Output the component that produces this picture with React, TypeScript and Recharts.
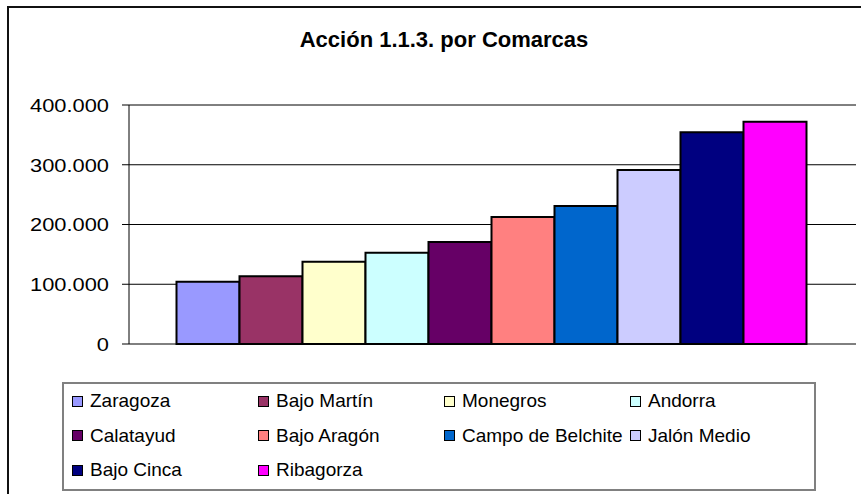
import { BarChart, Bar, XAxis, YAxis, CartesianGrid } from "recharts";

const titulo = "Acción 1.1.3. por Comarcas";

const comarcas = [
  "Zaragoza",
  "Bajo Martín",
  "Monegros",
  "Andorra",
  "Calatayud",
  "Bajo Aragón",
  "Campo de Belchite",
  "Jalón Medio",
  "Bajo Cinca",
  "Ribagorza",
];

const importes = [104300, 113300, 137800, 152900, 170700, 212500, 231000, 291200, 354200, 372100];

const colores = [
  "#9999FF",
  "#993366",
  "#FFFFCC",
  "#CCFFFF",
  "#660066",
  "#FF8080",
  "#0066CC",
  "#CCCCFF",
  "#000080",
  "#FF00FF",
];

const ticksY = [0, 100000, 200000, 300000, 400000];

const FONT = "'Liberation Sans', Arial, sans-serif";

const fila: Record<string, string | number> = { name: titulo };
comarcas.forEach((c, i) => {
  fila[c] = importes[i];
});
const datos = [fila];

function formatoMiles(v: number): string {
  return String(Math.round(v)).replace(/\B(?=(\d{3})+(?!\d))/g, ".");
}

function TickY(props: any) {
  const { x, y, payload } = props;
  return (
    <g transform={`translate(${x},${y})`}>
      <text
        x={0}
        y={0}
        dy="0.36em"
        textAnchor="end"
        fontSize={19}
        fontFamily={FONT}
        fill="#000"
        transform="scale(1.15,1)"
      >
        {formatoMiles(payload.value)}
      </text>
    </g>
  );
}

function Leyenda() {
  return (
    <div
      style={{
        position: "absolute",
        left: 62,
        top: 382,
        width: 754,
        height: 109,
        boxSizing: "border-box",
        border: "2px solid #808080",
        background: "#fff",
      }}
    >
      {comarcas.map((c, i) => {
        const col = i % 4;
        const row = Math.floor(i / 4);
        const left = 8 + col * 186;
        const top = 17 + row * 34.5;
        return (
          <div key={c} style={{ position: "absolute", left, top, height: 0 }}>
            <div
              style={{
                position: "absolute",
                left: 0,
                top: -5.5,
                width: 11,
                height: 11,
                boxSizing: "border-box",
                border: "1px solid #000",
                background: colores[i],
              }}
            />
            <div
              style={{
                position: "absolute",
                left: 18,
                top: -12,
                whiteSpace: "nowrap",
                fontFamily: FONT,
                fontSize: 19,
                lineHeight: "23px",
                color: "#000",
              }}
            >
              {c}
            </div>
          </div>
        );
      })}
    </div>
  );
}

export default function App() {
  return (
    <div
      style={{
        position: "fixed",
        left: 0,
        top: 0,
        width: 861,
        height: 494,
        overflow: "hidden",
        background: "#fff",
      }}
    >
      <div
        style={{
          position: "absolute",
          left: 7,
          top: 6,
          width: 900,
          height: 520,
          border: "2px solid #111",
        }}
      />
      <div
        style={{
          position: "absolute",
          left: 244,
          top: 26,
          width: 400,
          textAlign: "center",
          fontFamily: FONT,
          fontWeight: "bold",
          fontSize: 22,
          lineHeight: "28px",
          color: "#000",
        }}
      >
        {titulo}
      </div>
      <div style={{ position: "absolute", left: 0, top: 0 }}>
        <BarChart
          width={861}
          height={494}
          data={datos}
          margin={{ top: 105, right: 5, bottom: 150, left: 0 }}
          barGap={0}
          barCategoryGap={47.5}
        >
          <CartesianGrid vertical={false} stroke="#000" strokeWidth={1} />
          <XAxis dataKey="name" height={0} tick={false} tickLine={false} axisLine={{ stroke: "#999" }} />
          <XAxis
            xAxisId="top"
            orientation="top"
            dataKey="name"
            height={0}
            tick={false}
            tickLine={false}
            axisLine={{ stroke: "#999" }}
          />
          <YAxis
            width={129}
            domain={[0, 400000]}
            ticks={ticksY}
            tick={<TickY />}
            tickSize={7}
            tickMargin={13}
            tickLine={{ stroke: "#000" }}
            axisLine={{ stroke: "#000" }}
            interval={0}
          />
          <YAxis
            yAxisId="right"
            orientation="right"
            width={0}
            domain={[0, 1]}
            tick={false}
            tickLine={false}
            axisLine={{ stroke: "#999" }}
          />
          {comarcas.map((c, i) => (
            <Bar
              key={c}
              dataKey={c}
              fill={colores[i]}
              stroke="#000"
              strokeWidth={2}
              isAnimationActive={false}
            />
          ))}
        </BarChart>
      </div>
      <Leyenda />
    </div>
  );
}
